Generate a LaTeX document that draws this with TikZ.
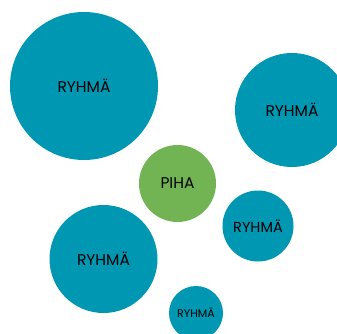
\documentclass[tikz,border=0pt]{standalone}
\usepackage{fontspec}
\setmainfont{Poppins}
\definecolor{teal}{HTML}{0097B2}
\definecolor{grassgreen}{HTML}{72B454}
\begin{document}
\begin{tikzpicture}[x=1pt,y=-1pt,
  bubble/.style={circle,fill=teal,draw=none,inner sep=0pt,text=black,font=\fontsize{15.5}{17}\selectfont},
  yard/.style={circle,fill=grassgreen,draw=none,inner sep=0pt,text=black,font=\fontsize{15.5}{17}\selectfont}]
\useasboundingbox (0,0) rectangle (337,334);
\clip (0,0) rectangle (337,334);
\node[bubble,minimum size=148pt] (g1) at (84,86) {RYHMÄ};
\node[bubble,minimum size=114pt] (g2) at (292,110) {RYHMÄ};
\node[yard,minimum size=77pt] (piha) at (177.5,183.5) {PIHA};
\node[bubble,minimum size=71pt,font=\fontsize{14.5}{16}\selectfont] (g3) at (258,226) {RYHMÄ};
\node[bubble,minimum size=108pt] (g4) at (103.5,259) {RYHMÄ};
\node[bubble,minimum size=54pt,font=\fontsize{11}{13}\selectfont] (g5) at (196,313) {RYHMÄ};
\end{tikzpicture}
\end{document}
